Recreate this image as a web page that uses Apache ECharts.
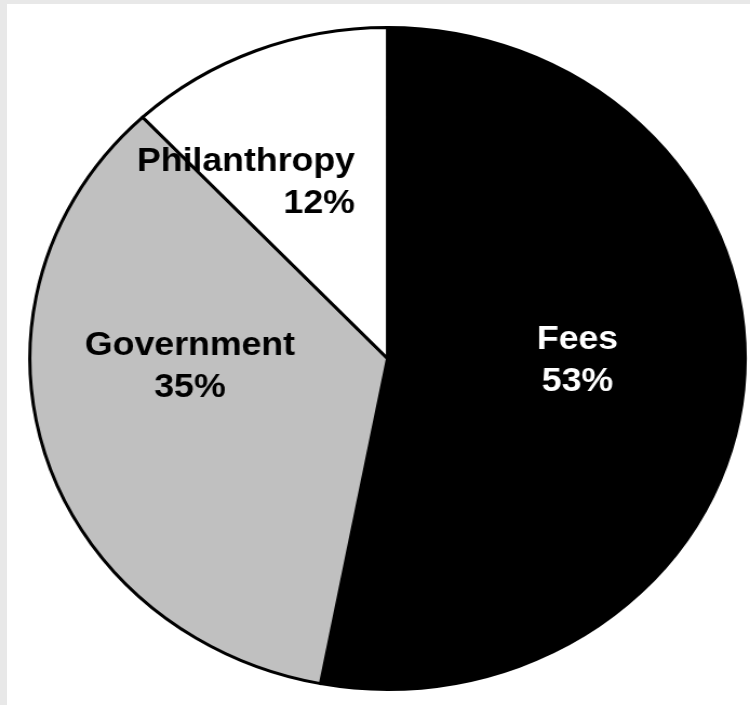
<!DOCTYPE html>
<html>
<head>
<meta charset="utf-8">
<script src="https://cdn.jsdelivr.net/npm/echarts@6/dist/echarts.min.js"></script>
<style>
  html, body { margin: 0; padding: 0; background: #e8e8e8; width: 750px; height: 705px; overflow: hidden; }
  #frame { position: absolute; left: 7px; top: 4px; width: 743px; height: 701px; background: #ffffff; }
  #chart { position: absolute; left: 0; top: 0; width: 694px; height: 705px; transform: scaleX(1.0807); transform-origin: 0 0; }
</style>
</head>
<body>
<div id="frame"></div>
<div id="chart"></div>
<script>
const categories = ['Fees', 'Government', 'Philanthropy'];
const values = [53, 35, 12];
const colors = ['#000000', '#c0c0c0', '#ffffff'];
const labelColors = ['#ffffff', '#000000', '#000000'];
const valueStyles = ['v', 'v', 'vr'];
const labelShift = [[8, -13], [-21, -39], [-69, -19]];

const chart = echarts.init(document.getElementById('chart'), null, { renderer: 'canvas' });
const txt = { fontFamily: '"Liberation Sans", Arial, sans-serif', fontWeight: 'bold', fontSize: 33, lineHeight: 42 };
chart.setOption({
  animation: false,
  backgroundColor: 'transparent',
  series: [{
    type: 'pie',
    center: [358.6, 358.5],
    radius: [0, 331],
    startAngle: 90,
    clockwise: true,
    avoidLabelOverlap: false,
    data: categories.map((name, i) => ({
      name: name,
      value: values[i],
      itemStyle: { color: colors[i] },
      label: { color: labelColors[i] }
    })),
    itemStyle: { borderColor: '#000000', borderWidth: 3 },
    label: {
      show: true,
      position: 'inside',
      formatter: p => '{n|' + p.name + '}\n{' + valueStyles[p.dataIndex] + '|' + p.value + '%}',
      fontFamily: txt.fontFamily,
      fontWeight: 'bold',
      fontSize: 33,
      lineHeight: 42,
      rich: {
        n: Object.assign({ align: 'center' }, txt),
        v: Object.assign({ align: 'center' }, txt),
        vr: Object.assign({ align: 'right' }, txt)
      }
    },
    labelLine: { show: false },
    labelLayout: function (params) {
      const s = labelShift[params.dataIndex];
      return { dx: s[0], dy: s[1] };
    },
    emphasis: { disabled: true }
  }]
});
</script>
</body>
</html>
